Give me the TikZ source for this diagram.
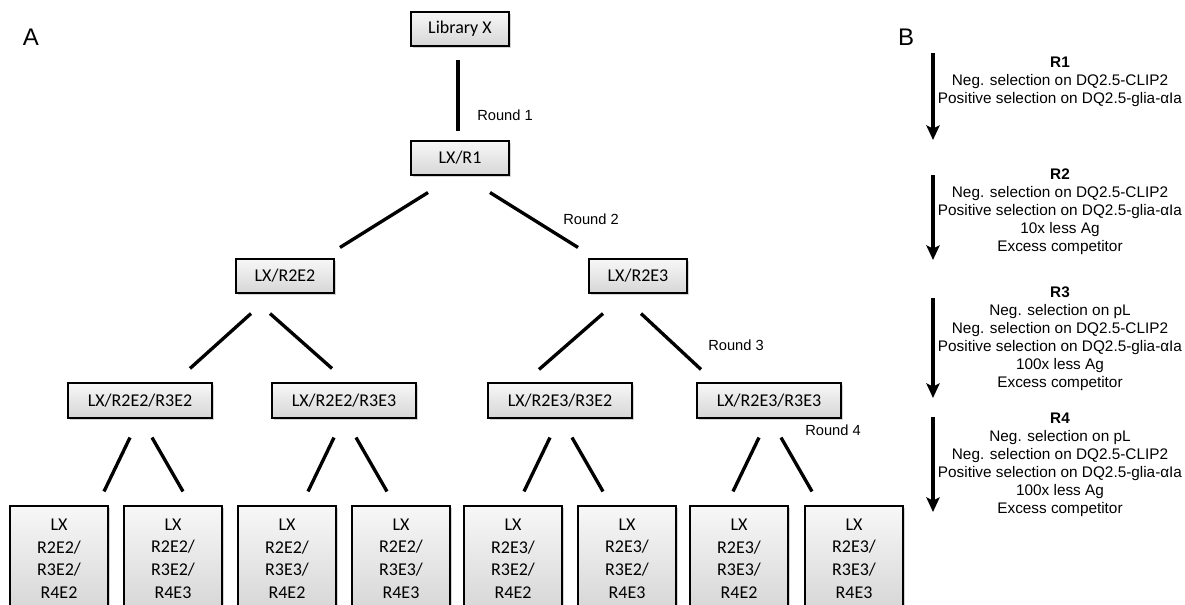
\documentclass[tikz,border=0pt]{standalone}
\usepackage{fontspec}
\setmainfont{Liberation Sans}
\newfontfamily\carlito{Carlito}
\usetikzlibrary{calc,shadows,arrows.meta}

\tikzset{
  box/.style={draw, line width=0.8pt, top color=gray!6, bottom color=gray!32,
    drop shadow={shadow xshift=1.2pt, shadow yshift=-1.2pt, opacity=0.35},
    font=\carlito\fontsize{13.5}{16.9}\selectfont, inner sep=0pt, align=center,
    minimum width=73.5pt, minimum height=25.5pt},
  widebox/.style={box, minimum width=108pt, minimum height=26.25pt},
  leafbox/.style={box, minimum height=78.75pt},
  link/.style={line width=2.5pt},
  roundlbl/.style={anchor=west, inner sep=0pt, font=\fontsize{11}{13}\selectfont},
  rnote/.style={anchor=north, align=center, inner sep=0pt, font=\fontsize{11.5}{13.5}\selectfont},
  darrow/.style={line width=2.5pt, -{Stealth[length=11pt, width=10pt, inset=2.5pt]}},
  panel/.style={font=\fontsize{18}{20}\selectfont}
}

\begin{document}
\begin{tikzpicture}[x=0.75pt, y=-0.75pt]
\useasboundingbox (0,0) rectangle (1185,605);

% panel letters
\node[panel] (pa) at (31,37) {A};
\node[panel] (pb) at (906,37) {B};

% tree
\node[box] (lib) at (460,29) {Library X};
\node[box] (r1) at (460,158) {LX/R1};
\node[box] (r2e2) at (285,276) {LX/R2E2};
\node[box] (r2e3) at (638,276) {LX/R2E3};
\node[widebox] (r3a) at (140,400.5) {LX/R2E2/R3E2};
\node[widebox] (r3b) at (344,400.5) {LX/R2E2/R3E3};
\node[widebox] (r3c) at (560,400.5) {LX/R2E3/R3E2};
\node[widebox] (r3d) at (769,400.5) {LX/R2E3/R3E3};

\foreach \x/\n/\txt in {59/r4a/{R2E2/\\R3E2/\\R4E2}, 173/r4b/{R2E2/\\R3E2/\\R4E3},
                        287/r4c/{R2E2/\\R3E3/\\R4E2}, 401/r4d/{R2E2/\\R3E3/\\R4E3},
                        513/r4e/{R2E3/\\R3E2/\\R4E2}, 627/r4f/{R2E3/\\R3E2/\\R4E3},
                        739/r4g/{R2E3/\\R3E3/\\R4E2}, 854/r4h/{R2E3/\\R3E3/\\R4E3}}
  \node[leafbox] (\n) at (\x,558.5) {LX\\\txt};

% round 1
\draw[link] ($(lib.south)+(-2,13)$) -- ($(r1.north)+(-2,-9)$);
% round 2
\draw[link] ($(r1.south)+(-32,17)$) -- ($(r2e2.north)+(55,-11)$);
\draw[link] ($(r1.south)+(30,17)$) -- ($(r2e3.north)+(-60,-11)$);
% round 3
\draw[link] ($(r2e2.south)+(-34,20)$) -- ($(r3a.north)+(50,-14)$);
\draw[link] ($(r2e2.south)+(-15,20)$) -- ($(r3b.north)+(-12,-14)$);
\draw[link] ($(r2e3.south)+(-35,20)$) -- ($(r3c.north)+(-21,-13)$);
\draw[link] ($(r2e3.south)+(3,20)$) -- ($(r3d.north)+(-68,-13)$);
% round 4
\draw[link] ($(r3a.south)+(-10,19)$) -- ($(r4a.north)+(45,-14)$);
\draw[link] ($(r3a.south)+(12,19)$) -- ($(r4b.north)+(10,-14)$);
\draw[link] ($(r3b.south)+(-10,19)$) -- ($(r4c.north)+(21,-14)$);
\draw[link] ($(r3b.south)+(12,19)$) -- ($(r4d.north)+(-14,-14)$);
\draw[link] ($(r3c.south)+(-10,19)$) -- ($(r4e.north)+(11,-14)$);
\draw[link] ($(r3c.south)+(12,19)$) -- ($(r4f.north)+(-24,-14)$);
\draw[link] ($(r3d.south)+(-10,19)$) -- ($(r4g.north)+(-6,-14)$);
\draw[link] ($(r3d.south)+(12,19)$) -- ($(r4h.north)+(-42,-14)$);

\node[roundlbl] (lr1) at (477,115) {Round 1};
\node[roundlbl] (lr2) at (563,219) {Round 2};
\node[roundlbl] (lr3) at (708,345) {Round 3};
\node[roundlbl] (lr4) at (805,430) {Round 4};

% panel B
\coordinate (a1s) at (933,53);  \coordinate (a1e) at (933,140);
\coordinate (a2s) at (933,175); \coordinate (a2e) at (933,260);
\coordinate (a3s) at (933,298); \coordinate (a3e) at (933,398);
\coordinate (a4s) at (933,417); \coordinate (a4e) at (933,512);
\draw[darrow] (a1s) -- (a1e);
\draw[darrow] (a2s) -- (a2e);
\draw[darrow] (a3s) -- (a3e);
\draw[darrow] (a4s) -- (a4e);

\node[rnote] (n1) at (1060,57) {\textbf{R1}\\Neg. selection on DQ2.5-CLIP2\\Positive selection on DQ2.5-glia-αIa};
\node[rnote] (n2) at (1060,169) {\textbf{R2}\\Neg. selection on DQ2.5-CLIP2\\Positive selection on DQ2.5-glia-αIa\\10x less Ag\\Excess competitor};
\node[rnote] (n3) at (1060,287) {\textbf{R3}\\Neg. selection on pL\\Neg. selection on DQ2.5-CLIP2\\Positive selection on DQ2.5-glia-αIa\\100x less Ag\\Excess competitor};
\node[rnote] (n4) at (1060,413) {\textbf{R4}\\Neg. selection on pL\\Neg. selection on DQ2.5-CLIP2\\Positive selection on DQ2.5-glia-αIa\\100x less Ag\\Excess competitor};
\end{tikzpicture}
\end{document}
